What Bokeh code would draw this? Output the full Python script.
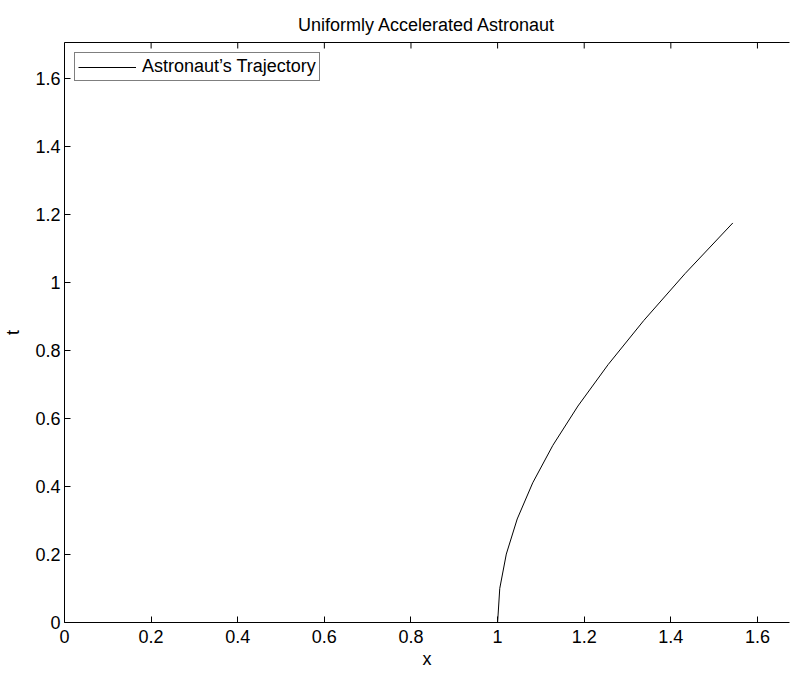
import math
from bokeh.plotting import figure
from bokeh.models import Range1d, LinearAxis, FixedTicker
from bokeh.embed import file_html
from bokeh.resources import INLINE

# data (samples of the trajectory)
x_pos = [1.0, 1.005, 1.0201, 1.0453, 1.0811, 1.1276, 1.1855, 1.2552, 1.3374, 1.4331, 1.5431]
t_val = [0.0, 0.1002, 0.2013, 0.3045, 0.4108, 0.5211, 0.6367, 0.7586, 0.8881, 1.0265, 1.1752]

x_ticks = [0, 0.2, 0.4, 0.6, 0.8, 1, 1.2, 1.4, 1.6]
x_tick_labels = ["0", "0.2", "0.4", "0.6", "0.8", "1", "1.2", "1.4", "1.6"]
y_ticks = [0, 0.2, 0.4, 0.6, 0.8, 1, 1.2, 1.4, 1.6]
y_tick_labels = ["0", "0.2", "0.4", "0.6", "0.8", "1", "1.2", "1.4", "1.6"]

X_MAX = 1.674
Y_MAX = 1.706

FONT = "Liberation Sans"
FS = "18px"

p = figure(frame_width=725, frame_height=580,
           x_range=Range1d(0, X_MAX), y_range=Range1d(0, Y_MAX),
           output_backend="svg", toolbar_location=None,
           min_border_left=57, min_border_right=1, min_border_top=42, min_border_bottom=37,
           title="Uniformly Accelerated Astronaut")
p.title.align = "center"
p.title.text_font = FONT
p.title.text_font_size = FS
p.title.text_font_style = "normal"
p.title.text_color = "black"
p.title.standoff = 16
p.xgrid.visible = False
p.ygrid.visible = False
p.outline_line_color = None

def style(ax, ticks, labels, standoff):
    ax.ticker = FixedTicker(ticks=ticks)
    ax.major_label_overrides = dict(zip(ticks, labels))
    ax.major_tick_in = 6
    ax.major_tick_out = 0
    ax.minor_tick_line_color = None
    ax.axis_line_color = "black"
    ax.major_tick_line_color = "black"
    ax.major_label_text_font = FONT
    ax.major_label_text_font_size = FS
    ax.major_label_text_color = "black"
    ax.major_label_standoff = standoff
    ax.axis_label_text_font = FONT
    ax.axis_label_text_font_size = FS
    ax.axis_label_text_font_style = "normal"
    ax.axis_label_text_color = "black"

style(p.xaxis[0], x_ticks, x_tick_labels, 7)
p.xaxis[0].axis_label = "x"
p.xaxis[0].axis_label_standoff = 3
style(p.yaxis[0], y_ticks, y_tick_labels, 4)
p.yaxis[0].axis_label = "t"
p.yaxis[0].axis_label_standoff = 9

# top box edge: an axis with no ticks, only its line
top = LinearAxis(ticker=FixedTicker(ticks=[]))
top.axis_line_color = "black"
top.major_tick_line_color = None
top.minor_tick_line_color = None
p.add_layout(top, "above")

# inward ticks along the top edge (half of each dash is clipped by the frame)
p.scatter(x_ticks, [Y_MAX] * len(x_ticks), marker="dash", size=12, angle=math.pi / 2,
          line_color="black", line_width=1)

p.line(x_pos, t_val, line_color="black", line_width=1, legend_label="Astronaut’s Trajectory")

lg = p.legend[0]
lg.location = "top_left"
lg.margin = 10
lg.padding = 3
lg.spacing = 0
lg.glyph_width = 58
lg.glyph_height = 18
lg.label_height = 18
lg.label_standoff = 6
lg.label_text_font = FONT
lg.label_text_font_size = FS
lg.label_text_color = "black"
lg.border_line_color = "black"
lg.border_line_width = 1
lg.background_fill_alpha = 1

open("out.html", "w").write(file_html(p, INLINE))
